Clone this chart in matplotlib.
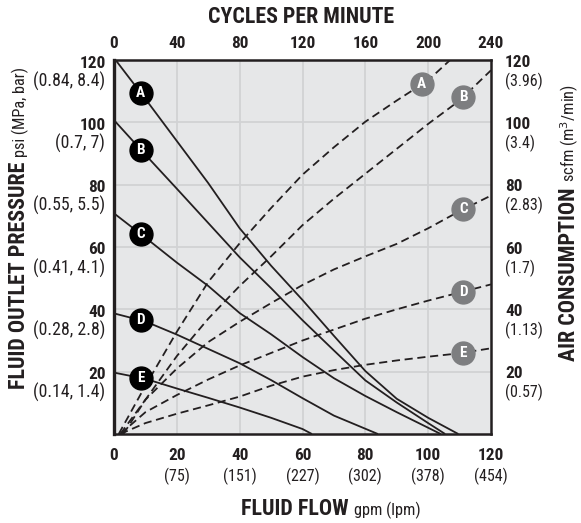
import numpy as np
import matplotlib
matplotlib.use("Agg")
import matplotlib.pyplot as plt
from matplotlib import font_manager

names = {f.name for f in font_manager.fontManager.ttflist}
fam = 'DejaVu Sans'
for cand in ['Roboto Condensed', 'Archivo Narrow', 'Liberation Sans Narrow', 'Asap Condensed']:
    if cand in names:
        fam = cand
        break
plt.rcParams['font.family'] = [fam, 'DejaVu Sans']

# ---- data ----
curve_names = ['A', 'B', 'C', 'D', 'E']

# fluid outlet pressure (psi) vs flow (gpm)
press_x = {
    'A': [0.5, 10, 20, 30, 40, 50, 60, 70, 80, 90, 100, 109.6],
    'B': [0, 10, 20, 30, 40, 50, 60, 70, 80, 90, 100, 105.4],
    'C': [0, 10, 20, 30, 40, 50, 60, 70, 80, 90, 100, 104],
    'D': [0, 10, 20, 30, 40, 50, 60, 70, 84],
    'E': [0, 10, 20, 30, 40, 50, 60, 63],
}
press_y = {
    'A': [120, 107.5, 94, 80.5, 66, 54, 43, 31.5, 20.2, 11.3, 5.2, 0],
    'B': [100.7, 89.6, 78.7, 67.7, 56.7, 46.8, 36.5, 26.8, 17.2, 10.1, 3.5, 0],
    'C': [70.8, 63, 55, 47.5, 38.8, 32, 24.7, 17.9, 12.2, 7, 2, 0],
    'D': [38.7, 36.1, 31.9, 27.3, 22.7, 17.3, 11.5, 5.9, 0],
    'E': [19.7, 17.7, 14.6, 11.6, 8.5, 5.2, 1.6, 0],
}

# air consumption (scfm) vs flow (gpm)
air_x = {
    'A': [1.5, 10, 20, 30, 40, 50, 60, 70, 80, 90, 100, 107],
    'B': [3, 10, 20, 30, 40, 50, 60, 70, 80, 90, 100, 110, 120],
    'C': [2, 10, 20, 30, 40, 50, 60, 70, 80, 90, 100, 110, 120],
    'D': [2, 10, 20, 30, 40, 50, 60, 70, 80, 90, 100, 110, 120],
    'E': [2, 10, 20, 30, 40, 50, 60, 70, 80, 90, 100, 110, 120],
}
air_y = {
    'A': [0, 15.5, 32.8, 48.8, 61.2, 72.5, 83.2, 92, 100.2, 107, 113.5, 120],
    'B': [0, 11, 25, 37, 47.5, 57, 67, 75.5, 83.5, 91.5, 99.5, 107, 116.7],
    'C': [0, 11, 21, 29.5, 36, 42, 47.8, 52.8, 57, 61, 66, 71.5, 76.5],
    'D': [0, 7, 12.5, 17.5, 22, 26, 30, 33.5, 37, 40, 42.8, 45.4, 48],
    'E': [0, 3.5, 6.5, 9.2, 12, 15.5, 18.4, 20.5, 22.2, 23.6, 24.8, 25.9, 27.5],
}

# where the letter badges sit along each curve (gpm)
press_badge_x = [8.5, 8.5, 8.5, 8.5, 8.5]
air_badge_x = [98, 111.2, 111.2, 111.2, 111.2]

flow_ticks = [0, 20, 40, 60, 80, 100, 120]
flow_lpm = ['', '(75)', '(151)', '(227)', '(302)', '(378)', '(454)']
cpm_ticks = [0, 40, 80, 120, 160, 200, 240]
psi_ticks = [20, 40, 60, 80, 100, 120]
psi_metric = ['(0.14, 1.4)', '(0.28, 2.8)', '(0.41, 4.1)', '(0.55, 5.5)', '(0.7, 7)', '(0.84, 8.4)']
scfm_ticks = [20, 40, 60, 80, 100, 120]
scfm_metric = ['(0.57)', '(1.13)', '(1.7)', '(2.83)', '(3.4)', '(3.96)']

W, H = 581, 523
fig = plt.figure(figsize=(W / 100, H / 100), dpi=100)
renderer = fig.canvas.get_renderer()


def fit_size(s, target_px, weight='normal', fs0=12):
    # font size that makes string s about target_px wide
    t = fig.text(0, 0, s, fontsize=fs0, fontweight=weight)
    w = t.get_window_extent(renderer).width
    t.remove()
    return fs0 * target_px / w


title_fs = fit_size('CYCLES PER MINUTE', 186, 'bold')
tick_fs = fit_size('120', 26, 'bold')
sub_left_fs = fit_size('(0.84, 8.4)', 72)
sub_fs = fit_size('(3.96)', 38)
label_fs = fit_size('FLUID OUTLET PRESSURE', 228, 'bold')
unit_fs = fit_size('psi (MPa, bar)', 90)

ax = fig.add_axes([114 / W, 89 / H, 377 / W, 374 / H])
ax.set_xlim(0, 120)
ax.set_ylim(0, 120)
ax.set_facecolor('#e6e7e8')
ax.set_xticks(flow_ticks[1:-1])
ax.set_yticks(psi_ticks[:-1])
ax.grid(color='#d1d2d4', lw=1.3)
ax.set_axisbelow(True)
ax.tick_params(length=0, labelbottom=False, labelleft=False)
for s in ax.spines.values():
    s.set_color('#231f20')
    s.set_linewidth(1.8)
ax.spines['left'].set_linewidth(2.4)

ink = '#231f20'
for i, k in enumerate(curve_names):
    ax.plot(press_x[k], press_y[k], color=ink, lw=1.3, solid_capstyle='butt', zorder=3)
    ax.plot(air_x[k], air_y[k], color=ink, lw=1.3, ls=(0, (4.5, 2.6)), zorder=3)

for i, k in enumerate(curve_names):
    bx = press_badge_x[i]
    by = np.interp(bx, press_x[k], press_y[k])
    ax.plot(bx, by, 'o', ms=16.5, color='black', zorder=5)
    ax.text(bx, by, k, color='white', fontsize=11, fontweight='bold',
            ha='center', va='center', zorder=6)
    gx = air_badge_x[i]
    gy = np.interp(gx, air_x[k], air_y[k])
    ax.plot(gx, gy, 'o', ms=16.5, color='#7d7e80', zorder=5)
    ax.text(gx, gy, k, color='white', fontsize=11, fontweight='bold',
            ha='center', va='center', zorder=6)

# bottom tick labels
for v, sub in zip(flow_ticks, flow_lpm):
    ax.annotate(str(v), xy=(v, 0), xycoords=('data', 'axes fraction'),
                xytext=(0, -22), textcoords='offset pixels', ha='center', va='center',
                fontsize=tick_fs, fontweight='bold', color=ink)
    if sub:
        ax.annotate(sub, xy=(v, 0), xycoords=('data', 'axes fraction'),
                    xytext=(0, -42), textcoords='offset pixels', ha='center', va='center',
                    fontsize=sub_fs, color=ink)

# left tick labels
for v, sub in zip(psi_ticks, psi_metric):
    ax.annotate(str(v), xy=(0, v), xycoords=('axes fraction', 'data'),
                xytext=(-8, -3), textcoords='offset pixels', ha='right', va='center',
                fontsize=tick_fs, fontweight='bold', color=ink)
    ax.annotate(sub, xy=(0, v), xycoords=('axes fraction', 'data'),
                xytext=(-9, -21), textcoords='offset pixels', ha='right', va='center',
                fontsize=sub_left_fs, color=ink)

# top axis: cycles per minute
ax_top = ax.twiny()
ax_top.set_xlim(0, 240)
ax_top.axis('off')
for v in cpm_ticks:
    ax_top.annotate(str(v), xy=(v, 1), xycoords=('data', 'axes fraction'),
                    xytext=(0, 17), textcoords='offset pixels', ha='center', va='center',
                    fontsize=tick_fs, fontweight='bold', color=ink)

# right axis: air consumption
ax_right = ax.twinx()
ax_right.set_ylim(0, 120)
ax_right.axis('off')
for v, sub in zip(scfm_ticks, scfm_metric):
    ax_right.annotate(str(v), xy=(1, v), xycoords=('axes fraction', 'data'),
                      xytext=(14, -2), textcoords='offset pixels', ha='left', va='center',
                      fontsize=tick_fs, fontweight='bold', color=ink)
    ax_right.annotate(sub, xy=(1, v), xycoords=('axes fraction', 'data'),
                      xytext=(14, -21), textcoords='offset pixels', ha='left', va='center',
                      fontsize=sub_fs, color=ink)

fig.text(301 / W, 1 - 17 / H, 'CYCLES PER MINUTE', ha='center', va='center',
         fontsize=title_fs, fontweight='bold', color=ink)


def two_part(x, y, bold, light, rot, gap=5):
    # bold title followed by lighter unit text, both on the same baseline
    t = fig.text(x / W, 1 - y / H, bold, rotation=rot, rotation_mode='anchor',
                 ha='left', va='baseline', fontsize=label_fs, fontweight='bold', color=ink)
    bb = t.get_window_extent(renderer)
    if rot == 90:
        nx, ny = x, y - bb.height - gap
    else:
        nx, ny = x + bb.width + gap, y
    fig.text(nx / W, 1 - ny / H, light, rotation=rot, rotation_mode='anchor',
             ha='left', va='baseline', fontsize=unit_fs, color=ink)


two_part(241, 515, 'FLUID FLOW', 'gpm (lpm)', 0)
two_part(25, 389, 'FLUID OUTLET PRESSURE', 'psi (MPa, bar)', 90)
two_part(575, 361, 'AIR CONSUMPTION', 'scfm (m$^3$/min)', 90)

fig.savefig('out.png', dpi=100)
